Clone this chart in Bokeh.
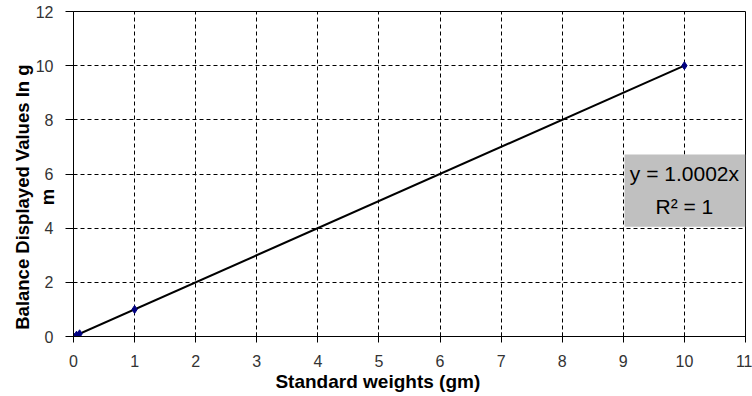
from bokeh.plotting import figure
from bokeh.models import Range1d, FixedTicker, Label, BoxAnnotation
from bokeh.embed import file_html
from bokeh.resources import INLINE

# data
std_weights = [0, 0.05, 0.1, 1, 10]
displayed = [0, 0.05, 0.1, 1, 10]
slope = 1.0002
fit_x = [0, 10]
fit_y = [slope * v for v in fit_x]
x_ticks = list(range(0, 12))
y_ticks = [0, 2, 4, 6, 8, 10, 12]
eq_text = "y = 1.0002x"
r2_text = "R\u00b2 = 1"
x_title = "Standard weights (gm)"
y_title = "Balance Displayed Values In g\nm"

FONT = "Liberation Sans"
NB = "\u00a0"

p = figure(width=752, height=396, output_backend="svg", toolbar_location=None,
           x_range=Range1d(0, 11), y_range=Range1d(0, 12),
           min_border_left=73, min_border_right=7, min_border_top=11, min_border_bottom=60,
           frame_width=672, frame_height=325)
p.background_fill_color = "white"
p.border_fill_color = "white"
p.outline_line_color = "black"
p.outline_line_width = 1

for ax, ticks in ((p.xaxis, x_ticks), (p.yaxis, y_ticks)):
    ax.ticker = FixedTicker(ticks=ticks)
    ax.minor_tick_line_color = None
    ax.axis_line_color = "black"
    ax.major_tick_line_color = "black"
    ax.major_label_text_font = FONT
    ax.major_label_text_font_size = "16px"
    ax.major_label_text_color = "#333333"
    ax.axis_label_text_font = FONT
    ax.axis_label_text_font_style = "bold"
    ax.axis_label_text_color = "black"

p.xaxis.major_tick_in = 4
p.xaxis.major_tick_out = 6
p.xaxis.major_label_standoff = 12
p.xaxis.axis_label = x_title + NB * 12
p.xaxis.axis_label_text_font_size = "19px"
p.xaxis.axis_label_standoff = 1

lines = y_title.split("\n")
p.yaxis.major_tick_in = 0
p.yaxis.major_tick_out = 8
p.yaxis.major_label_standoff = 12
p.yaxis.axis_label = "\n".join(s + NB * 9 for s in lines)
p.yaxis.axis_label_text_font_size = "18.5px"
p.yaxis.axis_label_standoff = -25

p.xgrid.ticker = FixedTicker(ticks=x_ticks)
p.ygrid.ticker = FixedTicker(ticks=y_ticks)
for g in (p.xgrid, p.ygrid):
    g.grid_line_color = "black"
    g.grid_line_dash = "4 3"
    g.grid_line_width = 1

p.line(fit_x, fit_y, line_color="black", line_width=2)
p.scatter(std_weights, displayed, marker="diamond", size=8, color="#000080")

box = BoxAnnotation(left=9.02, right=11, bottom=4.05, top=6.72,
                    fill_color="#C0C0C0", fill_alpha=1, line_color=None)
p.add_layout(box)
p.add_layout(Label(x=10.0, y=6.02, text=eq_text, text_font=FONT, text_font_size="21px",
                   text_align="center", text_baseline="middle", text_color="black"))
p.add_layout(Label(x=10.0, y=4.79, text=r2_text, text_font=FONT, text_font_size="21px",
                   text_align="center", text_baseline="middle", text_color="black"))

open("out.html", "w").write(file_html(p, INLINE))
